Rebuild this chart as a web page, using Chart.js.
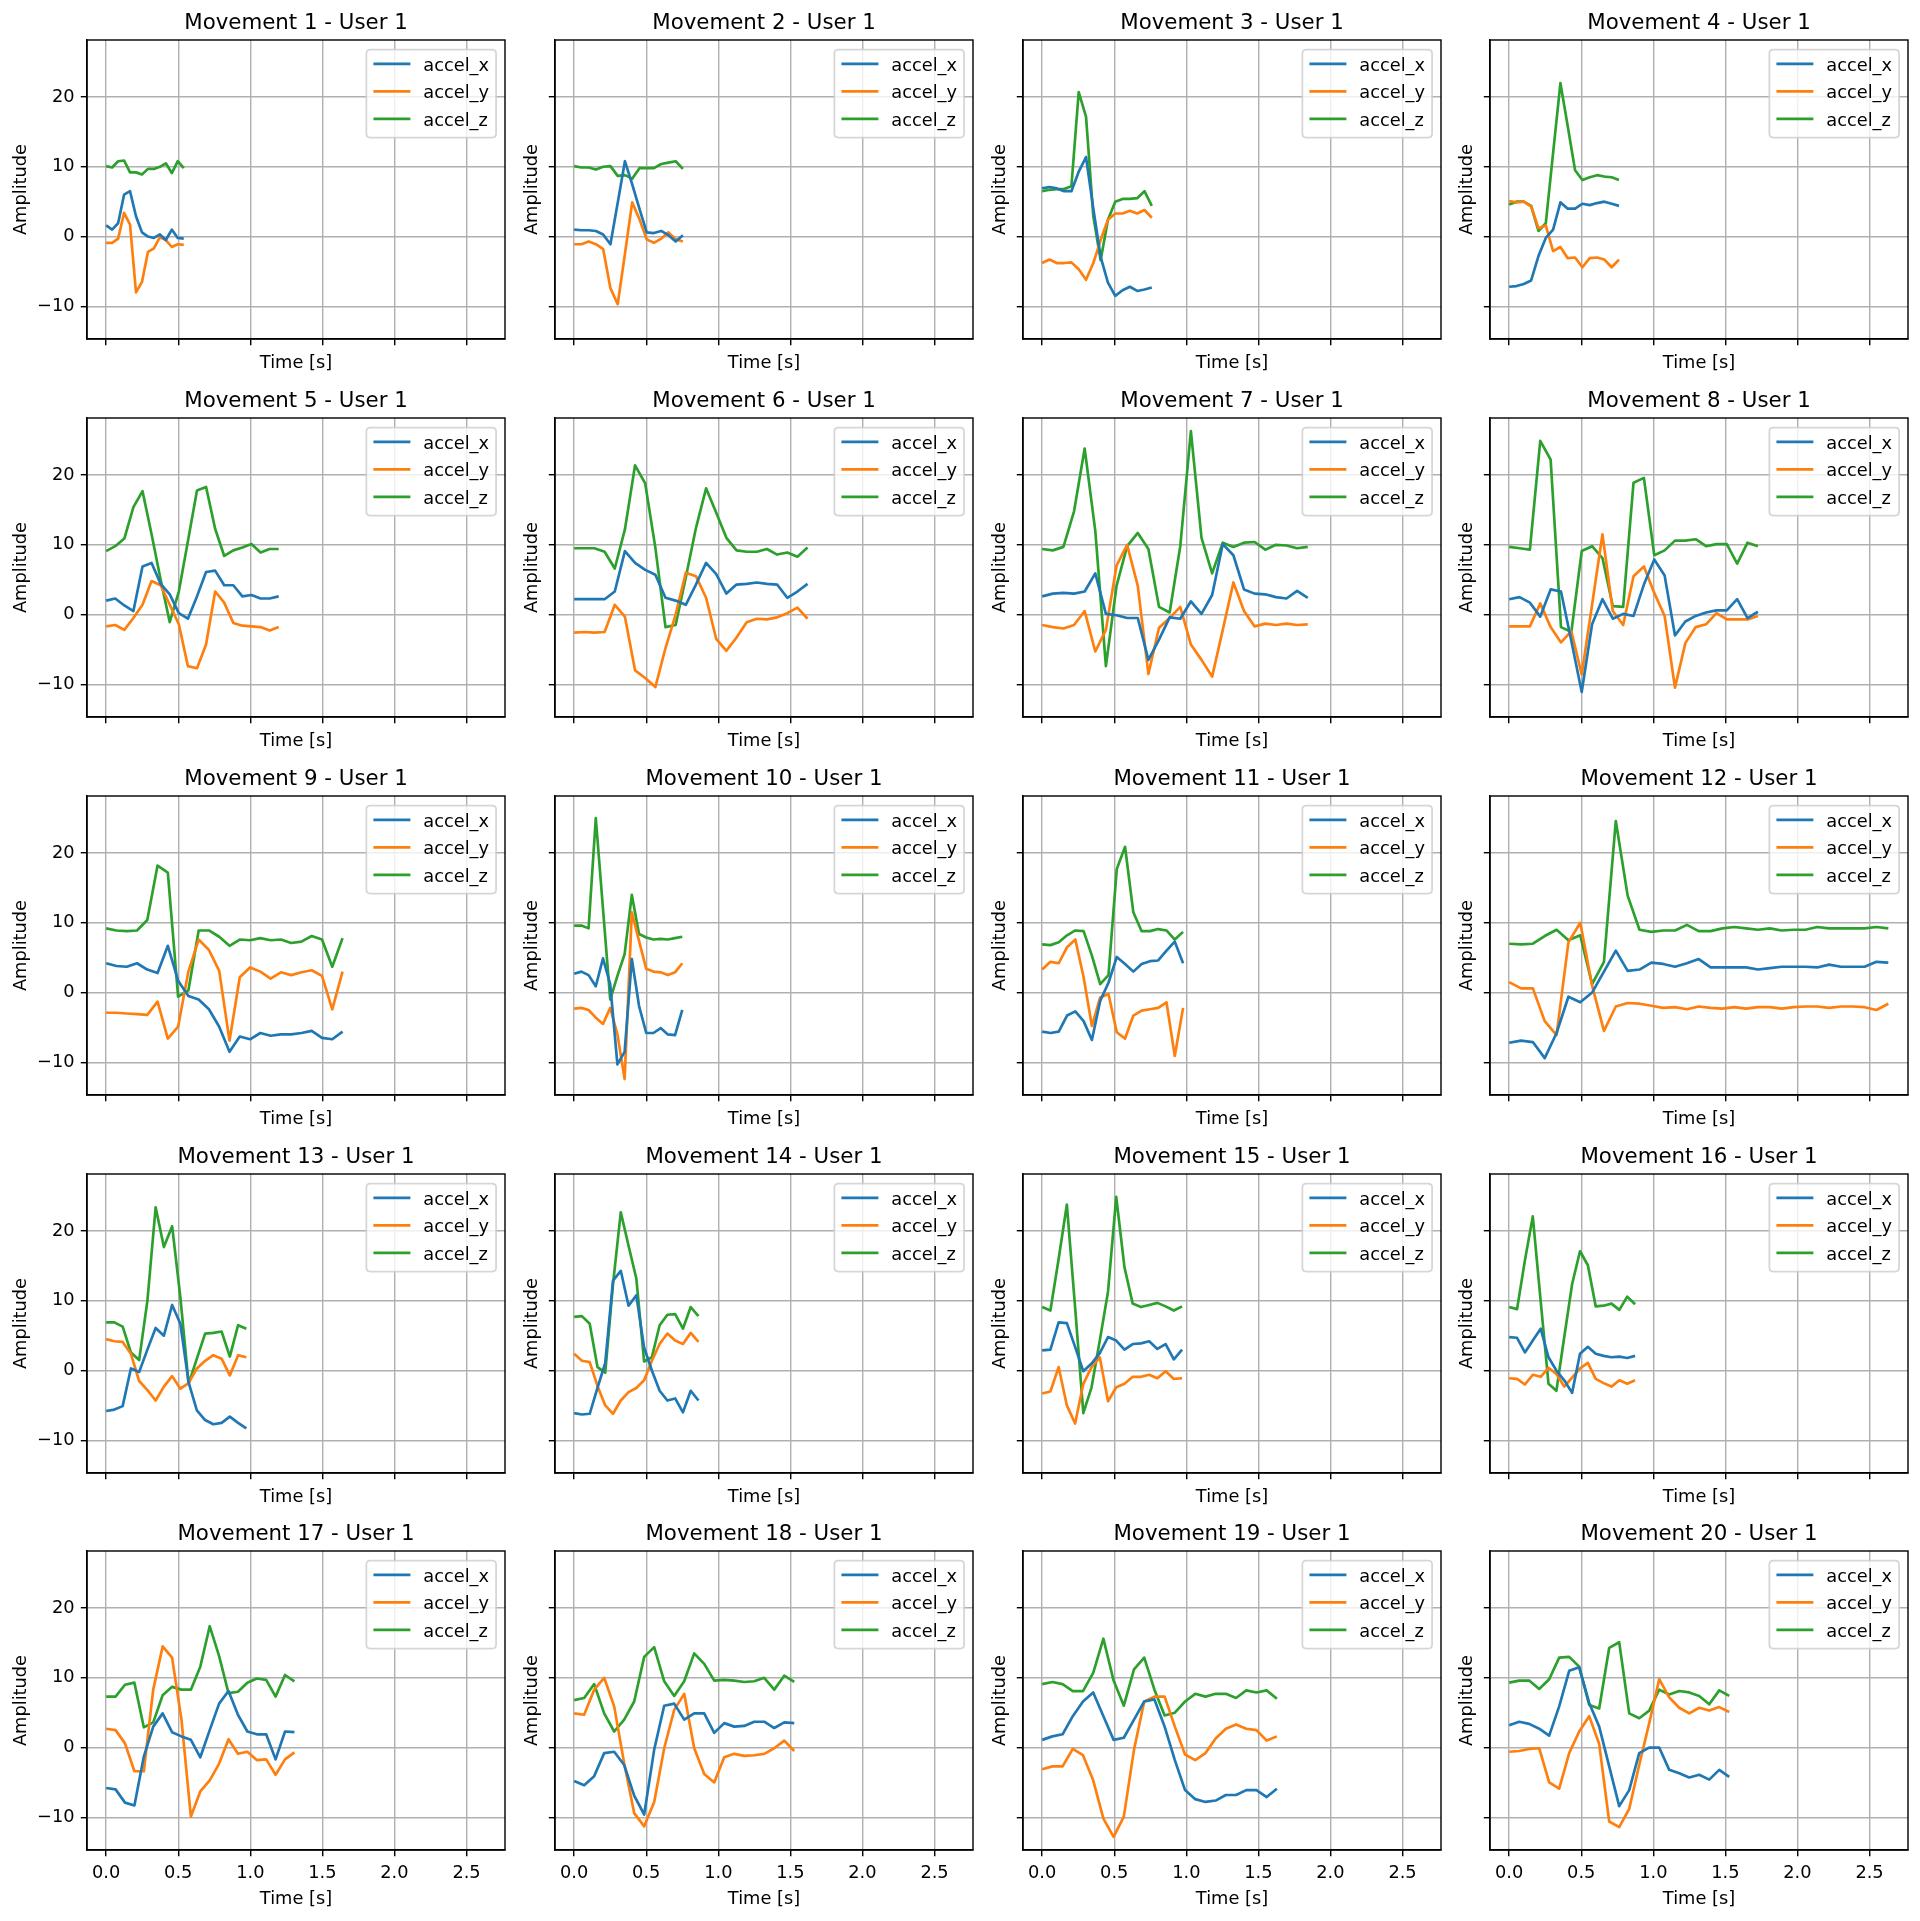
<!DOCTYPE html>
<html>
<head>
<meta charset="utf-8">
<script src="https://cdn.jsdelivr.net/npm/chart.js@4.4.1/dist/chart.umd.min.js"></script>
<style>
  html, body { margin: 0; padding: 0; background: #fff; }
  #fig { position: relative; width: 1920px; height: 1921px; }
  #fig canvas { position: absolute; }
</style>
</head>
<body>
<div id="fig"></div>
<script>
// sample interval (s) for each movement recording
var sampleDt = [0.0414, 0.0503, 0.0507, 0.0508, 0.063, 0.0704, 0.0737, 0.0719, 0.0713, 0.05,
                0.0575, 0.0822, 0.0572, 0.0539, 0.0571, 0.0546, 0.0653, 0.0694, 0.0708, 0.0694];

var accelX = [
  [1.6, 1.0, 1.9, 6.0, 6.5, 2.9, 0.6, 0.0, -0.2, 0.3, -0.5, 1.0, -0.2, -0.3],
  [1.0, 0.9, 0.9, 0.8, 0.3, -1.1, 4.8, 10.8, 7.5, 4.0, 0.6, 0.5, 0.8, 0.2, -0.7, 0.2],
  [6.9, 7.1, 6.9, 6.5, 6.5, 9.3, 11.4, 4.0, -2.9, -6.6, -8.5, -7.7, -7.2, -7.8, -7.6, -7.3],
  [-7.2, -7.1, -6.8, -6.3, -2.8, -0.2, 1.0, 4.9, 4.0, 4.0, 4.7, 4.5, 4.8, 5.0, 4.7, 4.4],
  [2.0, 2.3, 1.3, 0.5, 6.9, 7.4, 4.4, 2.9, 0.2, -0.6, 2.6, 6.1, 6.3, 4.2, 4.2, 2.6, 2.8, 2.3, 2.3, 2.6],
  [2.2, 2.2, 2.2, 2.2, 3.3, 9.1, 7.4, 6.4, 5.7, 2.4, 2.0, 1.4, 4.3, 7.4, 5.8, 3.0, 4.3, 4.4, 4.6, 4.4, 4.3, 2.4, 3.3, 4.4],
  [2.6, 3.0, 3.1, 3.0, 3.3, 5.9, 0.1, -0.1, -0.5, -0.5, -6.5, -3.6, -0.4, -0.6, 1.9, 0.1, 2.8, 10.1, 8.5, 3.6, 3.0, 2.9, 2.5, 2.3, 3.4, 2.4],
  [2.2, 2.5, 1.7, -0.3, 3.6, 3.3, -3.8, -11.1, -1.4, 2.2, -0.6, 0.1, -0.2, 4.3, 7.9, 5.6, -3.0, -1.0, -0.2, 0.3, 0.6, 0.6, 2.2, -0.5, 0.4],
  [4.2, 3.8, 3.7, 4.2, 3.3, 2.8, 6.7, 1.7, -0.5, -1.0, -2.4, -4.9, -8.5, -6.3, -6.7, -5.8, -6.2, -6.0, -6.0, -5.8, -5.5, -6.5, -6.7, -5.6],
  [2.7, 3.0, 2.5, 0.9, 4.9, 1.2, -10.3, -8.5, 4.8, -1.9, -5.8, -5.8, -5.1, -6.0, -6.1, -2.5],
  [-5.6, -5.8, -5.6, -3.3, -2.7, -4.1, -6.8, -1.2, 1.4, 5.1, 4.1, 3.0, 4.1, 4.5, 4.6, 6.0, 7.3, 4.2],
  [-7.2, -6.9, -7.1, -9.4, -5.8, -0.6, -1.4, 0.0, 3.0, 6.0, 3.1, 3.3, 4.3, 4.1, 3.7, 4.2, 4.8, 3.6, 3.6, 3.6, 3.6, 3.3, 3.5, 3.7, 3.7, 3.7, 3.6, 4.0, 3.7, 3.7, 3.7, 4.4, 4.3],
  [-5.8, -5.6, -5.1, 0.3, -0.2, 3.0, 6.1, 5.0, 9.4, 6.7, -1.7, -5.7, -7.1, -7.7, -7.5, -6.6, -7.5, -8.3],
  [-6.1, -6.3, -6.2, -2.5, 1.1, 12.9, 14.3, 9.3, 10.8, 3.3, 0.0, -2.9, -4.3, -4.0, -6.0, -2.9, -4.3],
  [2.9, 3.0, 6.9, 6.8, 3.4, -0.1, 1.0, 2.5, 4.8, 4.3, 3.0, 3.8, 3.9, 4.2, 3.1, 3.8, 1.6, 3.0],
  [4.8, 4.7, 2.6, 4.3, 6.0, 1.9, 0.0, -1.4, -3.2, 2.4, 3.4, 2.4, 2.1, 1.9, 2.0, 1.8, 2.1],
  [-5.8, -6.0, -7.9, -8.3, -1.3, 3.0, 4.9, 2.2, 1.6, 1.1, -1.4, 2.5, 6.3, 8.1, 4.7, 2.3, 1.9, 1.9, -1.7, 2.3, 2.2],
  [-4.8, -5.4, -4.1, -0.8, -0.6, -2.5, -6.9, -9.6, -0.3, 6.0, 6.3, 4.0, 4.9, 4.9, 2.1, 3.5, 3.0, 3.1, 3.7, 3.7, 2.8, 3.6, 3.5],
  [1.1, 1.6, 1.9, 4.5, 6.6, 7.9, 4.5, 1.1, 1.4, 4.0, 6.6, 6.9, 3.0, -1.8, -6.1, -7.4, -7.8, -7.6, -6.8, -6.8, -6.1, -6.1, -7.1, -5.9],
  [3.2, 3.7, 3.4, 2.7, 1.7, 5.9, 11.0, 11.5, 6.4, 3.0, -2.7, -8.4, -6.1, -0.8, 0.0, 0.0, -3.2, -3.7, -4.3, -3.9, -4.6, -3.2, -4.2]
];

var accelY = [
  [-0.9, -0.9, -0.3, 3.4, 1.7, -8.0, -6.5, -2.2, -1.7, -0.1, -0.5, -1.5, -1.1, -1.2],
  [-1.1, -1.1, -0.7, -1.1, -1.8, -7.4, -9.7, -2.5, 4.9, 2.5, -0.4, -0.9, -0.3, 0.6, -0.4, -0.7],
  [-3.8, -3.3, -3.8, -3.8, -3.7, -4.7, -6.2, -3.8, -0.5, 2.4, 3.3, 3.3, 3.7, 3.3, 3.8, 2.7],
  [5.1, 4.9, 5.0, 4.3, 1.2, 1.6, -2.1, -1.5, -3.1, -3.0, -4.4, -3.1, -3.0, -3.3, -4.4, -3.3],
  [-1.7, -1.5, -2.2, -0.5, 1.4, 4.8, 4.2, 1.4, -1.4, -7.4, -7.7, -4.3, 3.3, 1.7, -1.2, -1.6, -1.7, -1.8, -2.3, -1.8],
  [-2.6, -2.5, -2.6, -2.5, 1.4, -0.3, -8.0, -9.1, -10.4, -4.8, 0.0, 6.0, 5.5, 2.4, -3.5, -5.2, -3.3, -1.1, -0.6, -0.7, -0.4, 0.2, 1.0, -0.6],
  [-1.5, -1.8, -2.0, -1.5, 0.5, -5.3, -2.2, 7.0, 10.0, 4.1, -8.5, -1.9, -0.5, 1.1, -4.3, -6.5, -8.9, -2.2, 4.6, 0.5, -1.7, -1.3, -1.5, -1.3, -1.5, -1.4],
  [-1.7, -1.7, -1.7, 1.6, -1.8, -4.0, -2.4, -8.6, 1.4, 11.5, 0.5, -1.5, 5.5, 6.9, 3.1, -0.2, -10.5, -4.1, -1.8, -1.4, 0.2, -0.7, -0.7, -0.7, -0.2],
  [-2.9, -2.9, -3.0, -3.1, -3.2, -1.3, -6.6, -4.9, 3.0, 7.6, 6.1, 3.1, -6.9, 2.2, 3.6, 3.0, 2.0, 2.9, 2.5, 2.9, 3.2, 2.4, -2.4, 3.0],
  [-2.3, -2.2, -2.5, -3.6, -4.5, -2.2, -6.0, -12.4, 11.5, 7.4, 3.4, 3.0, 2.9, 2.5, 2.9, 4.2],
  [3.3, 4.4, 4.2, 6.5, 7.6, 2.2, -4.8, -0.7, -0.2, -5.7, -6.6, -3.3, -2.6, -2.4, -2.2, -1.4, -9.1, -2.2],
  [1.5, 0.6, 0.6, -4.1, -6.1, 7.2, 10.0, 1.0, -5.5, -2.0, -1.5, -1.6, -1.9, -2.2, -2.1, -2.4, -2.0, -2.2, -2.3, -2.1, -2.3, -2.1, -2.1, -2.3, -2.1, -2.0, -2.0, -2.2, -2.0, -2.0, -2.1, -2.5, -1.6],
  [4.5, 4.2, 4.1, 2.4, -1.5, -2.8, -4.3, -2.3, -0.8, -2.6, -1.8, 0.3, 1.4, 2.2, 1.7, -0.7, 2.2, 1.9],
  [2.4, 1.4, 1.2, -2.2, -5.0, -6.2, -4.3, -3.1, -2.5, -1.4, 1.4, 3.8, 5.3, 4.3, 3.8, 5.4, 4.1],
  [-3.3, -3.0, 0.5, -5.0, -7.6, -1.9, 0.5, 1.9, -4.4, -2.4, -1.9, -0.9, -0.9, -0.6, -1.1, -0.1, -1.2, -1.1],
  [-1.1, -1.2, -2.0, -0.6, -0.9, 0.4, -0.5, -2.3, -1.0, 0.3, 1.1, -1.2, -1.8, -2.3, -1.4, -1.9, -1.4],
  [2.7, 2.5, 0.6, -3.4, -3.4, 8.3, 14.5, 12.9, 4.0, -9.9, -6.3, -4.7, -2.3, 1.2, -0.9, -0.6, -1.8, -1.7, -3.9, -1.7, -0.7],
  [4.9, 4.7, 8.3, 10.0, 5.9, -2.3, -9.4, -11.3, -7.8, -0.1, 5.4, 7.7, -0.1, -3.8, -5.0, -1.4, -0.9, -1.2, -1.1, -0.9, -0.1, 1.0, -0.5],
  [-3.1, -2.7, -2.7, -0.2, -1.1, -4.7, -10.2, -12.8, -9.9, -0.3, 6.6, 7.3, 7.3, 3.0, -1.0, -1.8, -0.8, 1.3, 2.7, 3.3, 2.7, 2.5, 1.0, 1.6],
  [-0.6, -0.5, -0.2, -0.1, -5.0, -5.9, -0.8, 2.3, 4.5, 0.5, -10.6, -11.4, -8.8, -2.5, 3.5, 9.8, 7.2, 5.7, 4.9, 5.7, 5.3, 5.8, 5.1]
];

var accelZ = [
  [10.1, 9.9, 10.8, 10.9, 9.2, 9.2, 8.9, 9.7, 9.7, 10.0, 10.5, 9.1, 10.8, 9.8],
  [10.1, 9.9, 9.9, 9.6, 10.0, 10.1, 8.7, 8.8, 8.3, 9.8, 9.8, 9.8, 10.4, 10.6, 10.8, 9.7],
  [6.5, 6.7, 6.8, 6.8, 7.2, 20.7, 17.2, 2.9, -3.4, 2.4, 5.0, 5.4, 5.4, 5.5, 6.5, 4.4],
  [4.6, 5.0, 5.0, 4.4, 0.8, 1.9, 12.0, 22.0, 15.8, 9.5, 8.1, 8.5, 8.8, 8.6, 8.5, 8.1],
  [9.1, 9.8, 10.9, 15.4, 17.7, 11.5, 5.0, -1.1, 3.3, 10.5, 17.8, 18.3, 12.3, 8.4, 9.2, 9.6, 10.1, 8.9, 9.4, 9.4],
  [9.5, 9.5, 9.5, 9.0, 6.6, 12.2, 21.4, 18.8, 9.6, -1.8, -1.5, 5.3, 12.4, 18.1, 14.6, 11.0, 9.2, 9.0, 9.0, 9.4, 8.6, 8.9, 8.3, 9.6],
  [9.4, 9.2, 9.7, 14.8, 23.8, 12.0, -7.4, 4.1, 9.8, 11.7, 9.4, 1.1, 0.3, 9.8, 26.3, 11.0, 5.9, 10.3, 9.7, 10.3, 10.4, 9.3, 10.0, 9.9, 9.5, 9.7],
  [9.7, 9.5, 9.3, 24.9, 22.2, -1.8, -2.5, 9.1, 9.8, 8.1, 1.2, 1.1, 18.9, 19.6, 8.5, 9.2, 10.6, 10.6, 10.8, 9.8, 10.1, 10.1, 7.3, 10.3, 9.8],
  [9.2, 8.9, 8.8, 8.9, 10.4, 18.2, 17.2, -0.6, 0.3, 8.9, 8.9, 8.0, 6.7, 7.6, 7.5, 7.8, 7.5, 7.6, 7.1, 7.3, 8.1, 7.6, 3.7, 7.8],
  [9.6, 9.6, 9.2, 25.0, 12.0, -1.0, 2.4, 5.5, 14.0, 8.4, 7.9, 7.6, 7.7, 7.6, 7.8, 8.0],
  [6.9, 6.8, 7.2, 8.2, 8.9, 8.8, 5.3, 1.2, 2.5, 17.7, 20.9, 11.5, 8.8, 8.8, 9.1, 8.9, 7.6, 8.7],
  [7.0, 6.9, 7.0, 8.1, 9.0, 7.5, 8.2, 1.2, 4.4, 24.6, 13.9, 9.0, 8.7, 8.9, 8.9, 9.7, 8.8, 8.8, 9.2, 9.4, 9.2, 9.0, 9.2, 8.9, 9.0, 9.0, 9.4, 9.2, 9.2, 9.2, 9.2, 9.4, 9.2],
  [6.9, 6.9, 6.3, 2.6, 1.5, 10.0, 23.4, 17.7, 20.7, 10.5, -1.9, 1.7, 5.3, 5.4, 5.6, 2.0, 6.5, 6.0],
  [7.7, 7.8, 6.7, 0.5, -0.3, 12.4, 22.7, 17.9, 13.2, 1.3, 1.9, 6.5, 8.0, 8.1, 6.0, 9.1, 7.8],
  [9.1, 8.6, 16.0, 23.8, 9.1, -6.1, -2.4, 4.3, 11.3, 24.9, 14.8, 9.6, 9.1, 9.4, 9.7, 9.2, 8.6, 9.2],
  [9.1, 8.8, 15.8, 22.1, 10.0, -1.9, -2.9, 4.8, 12.4, 17.1, 15.1, 9.2, 9.3, 9.6, 8.7, 10.6, 9.5],
  [7.3, 7.3, 9.0, 9.3, 2.9, 3.6, 7.5, 8.7, 8.3, 8.3, 11.6, 17.4, 13.1, 7.8, 8.0, 9.3, 9.9, 9.7, 7.3, 10.4, 9.5],
  [6.8, 7.1, 9.1, 4.9, 2.3, 4.0, 6.6, 13.0, 14.4, 9.5, 7.4, 9.5, 13.5, 12.0, 9.6, 9.7, 9.6, 9.4, 9.5, 10.0, 8.3, 10.3, 9.4],
  [9.1, 9.4, 9.1, 8.1, 8.1, 10.7, 15.6, 9.6, 6.0, 11.2, 12.9, 8.3, 4.6, 5.0, 6.6, 7.7, 7.3, 7.7, 7.7, 7.1, 8.2, 7.9, 8.2, 7.0],
  [9.3, 9.6, 9.6, 8.4, 9.8, 12.9, 13.0, 11.6, 6.1, 5.6, 14.3, 15.1, 4.9, 4.2, 5.3, 8.3, 7.6, 8.1, 7.9, 7.4, 6.2, 8.2, 7.4]
];

var seriesNames = ['accel_x', 'accel_y', 'accel_z'];
var seriesColors = ['#1f77b4', '#ff7f0e', '#2ca02c'];
var xTicks = [0, 0.5, 1, 1.5, 2, 2.5];
var yTicks = [-10, 0, 10, 20];

// figure layout (px)
var colLeft = [87, 555, 1023, 1490];
var rowTop = [40, 418, 796, 1174, 1551];
var axW = 418, axH = 299;
var padL = 87, padT = 40, padR = 6;
var FONT = 'DejaVu Sans';

Chart.defaults.font.family = FONT;
Chart.defaults.color = '#000';

// spines on all four sides + matplotlib-style legend inside the axes
var axesDecor = {
  id: 'axesDecor',
  afterDatasetsDraw: function(chart) {
    var a = chart.chartArea, ctx = chart.ctx;
    ctx.save();
    ctx.strokeStyle = '#000';
    ctx.lineWidth = 1.42;
    ctx.strokeRect(a.left, a.top, a.right - a.left, a.bottom - a.top);

    ctx.font = '17.8px "' + FONT + '"';
    var tw = 0;
    chart.data.datasets.forEach(function(ds) {
      tw = Math.max(tw, ctx.measureText(ds.label).width);
    });
    var w = 7.1 + 35.6 + 14.2 + tw + 7.1, h = 88;
    var x0 = a.right - 8.9 - w, y0 = a.top + 9.6, r = 4;
    ctx.beginPath();
    ctx.moveTo(x0 + r, y0);
    ctx.lineTo(x0 + w - r, y0);
    ctx.quadraticCurveTo(x0 + w, y0, x0 + w, y0 + r);
    ctx.lineTo(x0 + w, y0 + h - r);
    ctx.quadraticCurveTo(x0 + w, y0 + h, x0 + w - r, y0 + h);
    ctx.lineTo(x0 + r, y0 + h);
    ctx.quadraticCurveTo(x0, y0 + h, x0, y0 + h - r);
    ctx.lineTo(x0, y0 + r);
    ctx.quadraticCurveTo(x0, y0, x0 + r, y0);
    ctx.closePath();
    ctx.fillStyle = 'rgba(255,255,255,0.8)';
    ctx.fill();
    ctx.strokeStyle = 'rgba(204,204,204,0.8)';
    ctx.lineWidth = 1.78;
    ctx.stroke();

    chart.data.datasets.forEach(function(ds, k) {
      var yy = y0 + 14.3 + 27.5 * k;
      ctx.beginPath();
      ctx.strokeStyle = ds.borderColor;
      ctx.lineWidth = 2.67;
      ctx.lineCap = 'square';
      ctx.moveTo(x0 + 8.4, yy);
      ctx.lineTo(x0 + 42.7, yy);
      ctx.stroke();
      ctx.fillStyle = '#000';
      ctx.textBaseline = 'alphabetic';
      ctx.textAlign = 'left';
      ctx.fillText(ds.label, x0 + 56.9, yy + 7);
    });
    ctx.restore();
  }
};

function toPoints(vals, dt) {
  return vals.map(function(v, i) { return {x: i * dt, y: v}; });
}

var fig = document.getElementById('fig');
for (var m = 0; m < 20; m++) {
  var row = Math.floor(m / 4), col = m % 4;
  var lastRow = row === 4;
  var xh = lastRow ? 65 : 40;
  var cv = document.createElement('canvas');
  cv.width = padL + axW + padR;
  cv.height = padT + axH + xh;
  cv.style.left = (colLeft[col] - padL) + 'px';
  cv.style.top = (rowTop[row] - padT) + 'px';
  fig.appendChild(cv);

  var series = [accelX[m], accelY[m], accelZ[m]];
  var datasets = series.map(function(vals, k) {
    return {
      label: seriesNames[k],
      data: toPoints(vals, sampleDt[m]),
      borderColor: seriesColors[k],
      backgroundColor: seriesColors[k],
      borderWidth: 2.67,
      borderJoinStyle: 'round',
      pointRadius: 0,
      tension: 0,
      fill: false
    };
  });

  new Chart(cv, {
    type: 'line',
    data: {datasets: datasets},
    options: {
      responsive: false,
      animation: false,
      devicePixelRatio: 1,
      events: [],
      layout: {padding: {left: 0, top: 0, right: padR, bottom: 0}, autoPadding: false},
      plugins: {
        legend: {display: false},
        tooltip: {enabled: false},
        title: {
          display: true,
          text: 'Movement ' + (m + 1) + ' - User 1',
          fullSize: false,
          color: '#000',
          font: {size: 21.33, weight: 'normal', lineHeight: 1.2},
          padding: {top: 11, bottom: 3.4}
        }
      },
      scales: {
        x: {
          type: 'linear',
          min: -0.133,
          max: 2.767,
          afterBuildTicks: function(s) { s.ticks = xTicks.map(function(v) { return {value: v}; }); },
          afterFit: (function(h) { return function(s) { s.height = h; }; })(xh),
          ticks: {
            display: lastRow,
            autoSkip: false,
            maxRotation: 0,
            padding: 6.2,
            color: '#000',
            font: {size: 17.8},
            callback: function(v) { return Number(v).toFixed(1); }
          },
          grid: {color: '#b0b0b0', lineWidth: 1.42, drawTicks: true, tickLength: 6.2, tickColor: '#000', tickWidth: 1.42},
          border: {display: true, color: '#000', width: 1.42},
          title: {display: true, text: 'Time [s]', color: '#000', font: {size: 17.8}, padding: {top: 0, bottom: 5}}
        },
        y: {
          type: 'linear',
          min: -14.69,
          max: 28.18,
          afterBuildTicks: function(s) { s.ticks = yTicks.map(function(v) { return {value: v}; }); },
          afterFit: function(s) { s.width = padL; },
          ticks: {
            display: col === 0,
            padding: 6.2,
            color: '#000',
            font: {size: 17.8},
            callback: function(v) { return String(v).replace('-', '\u2212'); }
          },
          grid: {color: '#b0b0b0', lineWidth: 1.42, drawTicks: true, tickLength: 6.2, tickColor: '#000', tickWidth: 1.42},
          border: {display: true, color: '#000', width: 1.42},
          title: {display: true, text: 'Amplitude', color: '#000', font: {size: 17.8}, padding: {top: col === 0 ? 10.3 : 53.8, bottom: 0}}
        }
      }
    },
    plugins: [axesDecor]
  });
}
</script>
</body>
</html>
